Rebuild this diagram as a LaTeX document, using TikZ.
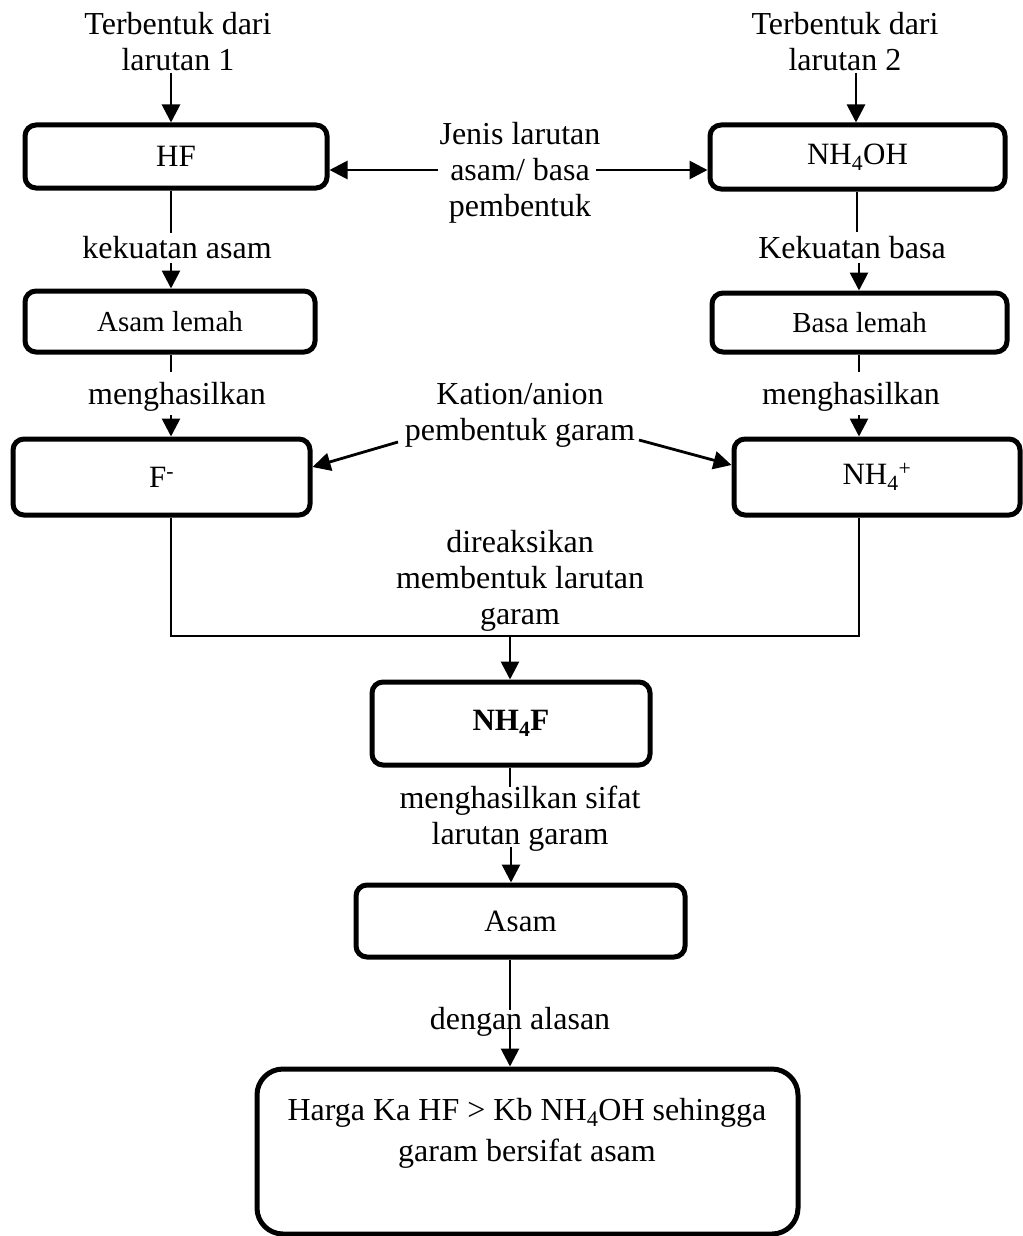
\documentclass[tikz,border=0pt]{standalone}
\usepackage{fontspec}
\setmainfont{Liberation Serif}
\usetikzlibrary{arrows.meta}
\begin{document}
\begin{tikzpicture}[x=1pt,y=-1pt,
  box/.style={draw, line width=5pt, rounded corners=11pt, inner sep=0pt, align=center,
    font=\fontsize{31}{36}\selectfont},
  lbl/.style={align=center, inner sep=0pt, font=\fontsize{32}{36}\selectfont},
  arr/.style={line width=2.8pt, -{Triangle[length=18pt,width=18pt]}},
  ln/.style={line width=1.9pt}]
\useasboundingbox (0,0) rectangle (1022,1236);

% nodes
\node[lbl] (t1) at (178,42) {Terbentuk dari\\larutan 1};
\node[lbl] (t2) at (845,42) {Terbentuk dari\\larutan 2};
\node[box, minimum width=302pt, minimum height=63pt] (hf) at (176,156.5) {HF};
\node[box, minimum width=295pt, minimum height=64pt] (nh4oh) at (857.5,157) {NH\textsubscript{4}OH};
\node[lbl] (jenis) at (520,173) {Jenis larutan\\asam/ basa\\pembentuk};
\node[lbl] (kasam) at (177,248) {kekuatan asam};
\node[lbl] (kbasa) at (852,248) {Kekuatan basa};
\node[box, minimum width=290pt, minimum height=61pt, font=\fontsize{29}{34}\selectfont] (alemah) at (170,321.5) {Asam lemah};
\node[box, minimum width=295pt, minimum height=59pt, font=\fontsize{29}{34}\selectfont] (blemah) at (859.5,322.5) {Basa lemah};
\node[lbl] (mh1) at (177,397) {menghasilkan};
\node[lbl] (mh2) at (851,397) {menghasilkan};
\node[lbl] (kation) at (520,415) {Kation/anion\\pembentuk garam};
\node[box, minimum width=297pt, minimum height=76pt] (fmin) at (161.5,477) {F\textsuperscript{-}};
\node[box, minimum width=286pt, minimum height=76pt] (nh4p) at (877,477) {NH\textsubscript{4}\textsuperscript{+}};
\node[lbl] (reaksi) at (520,581) {direaksikan\\membentuk larutan\\garam};
\node[box, minimum width=278pt, minimum height=83pt] (nh4f) at (511,723.5) {\bfseries NH\textsubscript{4}F};
\node[lbl] (sifat) at (520,819) {menghasilkan sifat\\larutan garam};
\node[box, minimum width=329pt, minimum height=72pt] (asam) at (520.5,921) {Asam};
\node[lbl] (alasan) at (520,1022) {dengan alasan};
\node[box, rounded corners=26pt, minimum width=541pt, minimum height=165pt] (hasil) at (527.5,1151.5) {};
\node[lbl, font=\fontsize{32}{41}\selectfont] (hasiltxt) at (527,1133)
  {Harga Ka HF > Kb NH\textsubscript{4}OH sehingga\\garam bersifat asam};

% free ends of the connectors
\coordinate (a1) at (171,73);
\coordinate (a2) at (856,73);
\coordinate (h1) at (171,233);
\coordinate (h2) at (171,263);
\coordinate (n1) at (857,232);
\coordinate (n2) at (859,263);
\coordinate (l1) at (171,372);
\coordinate (l2) at (171,415);
\coordinate (r1) at (859,372);
\coordinate (r2) at (859,415);
\coordinate (jl) at (438,170);
\coordinate (jr) at (596,170);
\coordinate (kl) at (398,442);
\coordinate (kr) at (639,440);
\coordinate (fl) at (171,515);
\coordinate (fr) at (859,515);
\coordinate (bl) at (171,636);
\coordinate (br) at (859,636);
\coordinate (bm) at (510,636);
\coordinate (m1) at (510,787);
\coordinate (m2) at (511,847);
\coordinate (s1) at (510,1010);
\coordinate (s2) at (510,1027);

% connectors
\draw[arr] (a1) -- (hf.north -| a1);
\draw[arr] (a2) -- (nh4oh.north -| a2);
\draw[arr] (jl) -- (hf.east |- jl);
\draw[arr] (jr) -- (nh4oh.west |- jr);
\draw[ln] (hf.south -| h1) -- (h1);
\draw[arr] (h2) -- (alemah.north -| h2);
\draw[ln] (nh4oh.south -| n1) -- (n1);
\draw[arr] (n2) -- (blemah.north -| n2);
\draw[ln] (alemah.south -| l1) -- (l1);
\draw[arr] (l2) -- (fmin.north -| l2);
\draw[ln] (blemah.south -| r1) -- (r1);
\draw[arr] (r2) -- (nh4p.north -| r2);
\draw[arr] (kl) -- (fmin.east |- 0,467);
\draw[arr] (kr) -- (nh4p.west |- 0,465);
\draw[ln] (fmin.south -| fl) -- (bl) -- (br) -- (nh4p.south -| fr);
\draw[arr] (bm) -- (nh4f.north -| bm);
\draw[ln] (nh4f.south -| m1) -- (m1);
\draw[arr] (m2) -- (asam.north -| m2);
\draw[ln] (asam.south -| s1) -- (s1);
\draw[arr] (s2) -- (hasil.north -| s2);
\end{tikzpicture}
\end{document}
